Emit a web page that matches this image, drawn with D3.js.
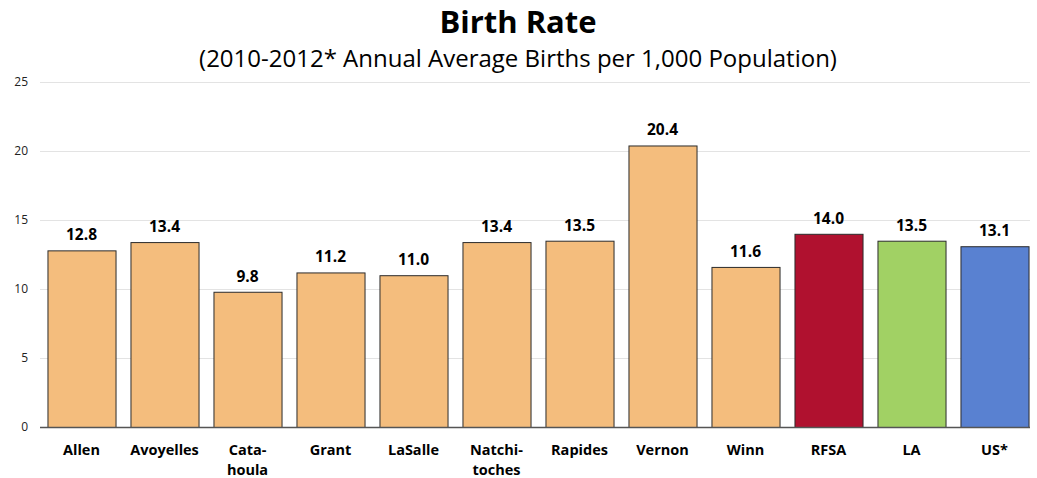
<!DOCTYPE html>
<html><head><meta charset="utf-8">
<script src="https://cdn.jsdelivr.net/npm/d3@7"></script>
<style>body{margin:0;background:#fff;} svg{display:block;font-family:"Open Sans","Noto Sans",sans-serif;}</style>
</head><body><svg id="c" width="1037" height="478"></svg>
<script>
const categories = ["Allen","Avoyelles","Cata-\nhoula","Grant","LaSalle","Natchi-\ntoches","Rapides","Vernon","Winn","RFSA","LA","US*"];
const values = [12.8,13.4,9.8,11.2,11.0,13.4,13.5,20.4,11.6,14.0,13.5,13.1];
const colors = ["#F4BD7D","#F4BD7D","#F4BD7D","#F4BD7D","#F4BD7D","#F4BD7D","#F4BD7D","#F4BD7D","#F4BD7D","#B0112F","#A1D164","#5981D1"];
const yTicks = [0,5,10,15,20,25];
const title = "Birth Rate";
const subtitle = "(2010-2012* Annual Average Births per 1,000 Population)";

const svg = d3.select("#c");
const x = d3.scaleBand().domain(d3.range(categories.length)).range([40,1036]).paddingInner(0.18).paddingOuter(0.09);
const y = d3.scaleLinear().domain([0,25]).range([427,82]);

svg.append("text").attr("x",518).attr("y",33).attr("text-anchor","middle")
  .attr("font-size",31).attr("font-weight","bold").text(title);
svg.append("text").attr("x",518).attr("y",67).attr("text-anchor","middle")
  .attr("font-size",24).text(subtitle);

const g = svg.append("g");
g.selectAll("line.grid").data(yTicks.filter(d=>d>0)).join("line")
  .attr("x1",40).attr("x2",1030).attr("y1",d=>y(d)+0.5).attr("y2",d=>y(d)+0.5)
  .attr("stroke","#e3e3e3").attr("stroke-width",1);

const yAxis = d3.axisLeft(y).tickValues(yTicks).tickSize(0).tickPadding(0);
const ya = svg.append("g").attr("transform","translate(28,0)").call(yAxis);
ya.select(".domain").remove();
ya.selectAll("text").attr("font-size",12).attr("fill","#222").attr("font-family","\"Open Sans\",sans-serif");

g.selectAll("rect.bar").data(values).join("rect")
  .attr("x",(d,i)=>x(i)+0.5).attr("width",x.bandwidth())
  .attr("y",d=>y(d)+0.5).attr("height",d=>y(0)-y(d))
  .attr("fill",(d,i)=>colors[i]).attr("stroke","#2b2b2b").attr("stroke-width",1);

g.append("line").attr("x1",40).attr("x2",1030).attr("y1",y(0)+0.5).attr("y2",y(0)+0.5)
  .attr("stroke","#555").attr("stroke-width",1.5);

g.selectAll("text.val").data(values).join("text")
  .attr("x",(d,i)=>x(i)+x.bandwidth()/2).attr("y",d=>y(d)-10)
  .attr("text-anchor","middle").attr("font-size",15.5).attr("font-weight","bold")
  .text(d=>d.toFixed(1));

const xAxis = d3.axisBottom(x).tickSize(0).tickFormat("");
const xa = svg.append("g").attr("transform",`translate(0,${y(0)})`).call(xAxis);
xa.select(".domain").remove();
categories.forEach((c,i)=>{
  const t = svg.append("text").attr("x",x(i)+x.bandwidth()/2).attr("y",455)
    .attr("text-anchor","middle").attr("font-size",14.5).attr("font-weight","bold");
  c.split("\n").forEach((line,j)=>{
    t.append("tspan").attr("x",x(i)+x.bandwidth()/2).attr("dy",j?20:0).text(line);
  });
});
</script></body></html>
